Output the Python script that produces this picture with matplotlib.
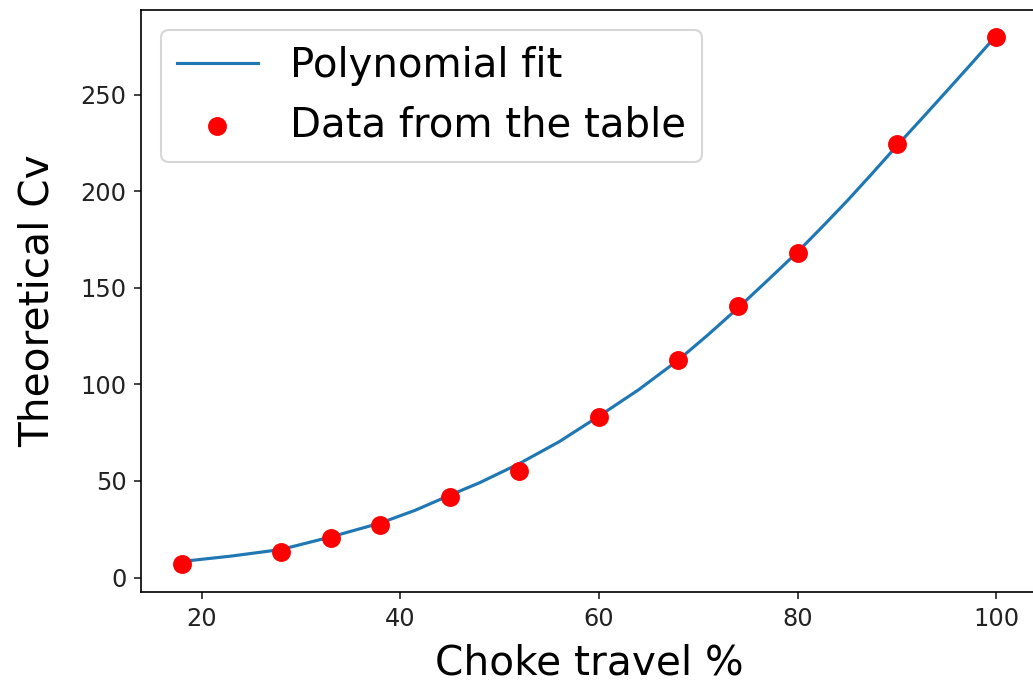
import matplotlib
matplotlib.use("Agg")
import matplotlib.pyplot as plt

travel = [18, 28, 33, 38, 45, 52, 60, 68, 74, 80, 90, 100]
cv_table = [6.8, 13.3, 20.6, 27.4, 41.5, 55.3, 83.1, 112.4, 140.5, 168.2, 224.3, 279.7]

# Polynomial fit curve
fit_x = [18, 23, 28, 33, 38, 41.5, 45, 48, 52, 56, 60, 64, 68, 71, 74, 77, 80, 82.5, 85,
         87.5, 90, 92.5, 95, 97.5, 100]
fit_y = [8.3, 11.1, 14.5, 21.0, 28.2, 34.8, 42.6, 49.1, 59.0, 70.3, 83.5, 97.2, 112.6,
         125.7, 139.5, 153.9, 168.5, 181.6, 195.0, 209.1, 223.5, 237.5, 251.7, 266.0, 280.5]

fig = plt.figure(figsize=(1033 / 150, 683 / 150), dpi=150)
ax = fig.add_axes([141 / 1033, 1 - 592 / 683, (1037 - 141) / 1033, (592 - 9.5) / 683])

ax.plot(fit_x, fit_y, color="#1f77b4", linewidth=1.5, label="Polynomial fit")
ax.scatter(travel, cv_table, color="red", s=65, label="Data from the table", zorder=3)

ax.set_xlim(13.9, 104.1)
ax.set_ylim(-7.5, 294)
ax.tick_params(labelsize=11.5, colors="#222222")
ax.set_xlabel("Choke travel %", fontsize=19.5, labelpad=6)
ax.set_ylabel("Theoretical Cv", fontsize=19.5, labelpad=11)
ax.legend(fontsize=19.3, loc="upper left")

fig.savefig("out.png", dpi=150)
